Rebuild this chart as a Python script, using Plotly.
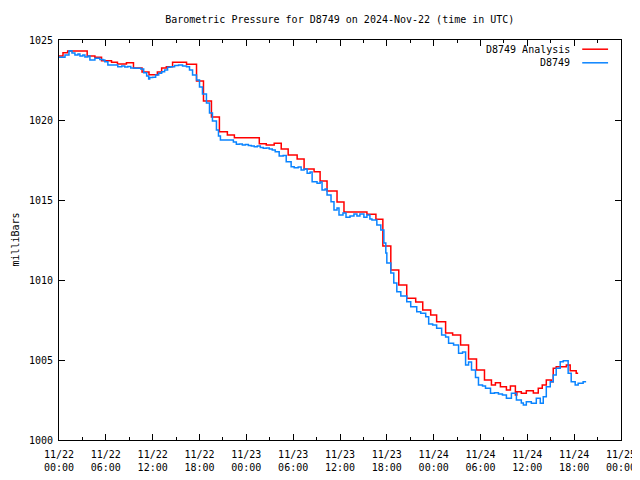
import pandas as pd
import plotly.graph_objects as go

START = "2024-11-22 00:00"
title_text = "Barometric Pressure for D8749 on 2024-Nov-22 (time in UTC)"
y_title = "milliBars"
analysis_name = "D8749 Analysis"
station_name = "D8749"

# hours since start, pressure (mb)
analysis_hours = [0.00, 0.51, 1.11, 3.61, 4.60, 5.45, 6.73, 7.49, 8.64, 9.54, 10.64, 11.53,
                  12.60, 13.15, 13.75, 14.55, 16.34, 17.62, 18.51, 19.53, 20.55, 21.57, 22.47,
                  25.66, 26.55, 27.57, 28.47, 29.36, 30.51, 31.40, 32.68, 33.45, 34.34, 35.62,
                  36.51, 39.45, 40.60, 41.49, 42.51, 43.53, 44.55, 45.70, 46.60, 47.62, 48.38,
                  49.53, 50.43, 51.45, 52.47, 53.49, 54.51, 55.40, 55.91, 56.55, 57.32, 57.83,
                  58.47, 58.66, 59.23, 59.87, 60.77, 61.40, 61.91, 62.43, 63.06, 63.32, 63.70,
                  65.00, 65.49, 66.26, 66.51]
analysis_values = [1024.00, 1024.20, 1024.31, 1024.00, 1023.92, 1023.71, 1023.61, 1023.50, 1023.58,
                   1023.25, 1023.00, 1022.83, 1023.00, 1023.25, 1023.33, 1023.61, 1023.48, 1022.44,
                   1021.19, 1020.19, 1019.27, 1019.06, 1018.89, 1018.52, 1018.44, 1018.54, 1018.19,
                   1017.81, 1017.56, 1016.94, 1016.77, 1016.19, 1015.56, 1014.88, 1014.25, 1014.11,
                   1013.79, 1012.13, 1010.63, 1009.69, 1008.86, 1008.63, 1008.13, 1007.81, 1007.39,
                   1006.69, 1006.56, 1005.94, 1005.06, 1004.38, 1003.75, 1003.44, 1003.58, 1003.33,
                   1003.13, 1003.38, 1002.81, 1003.02, 1002.92, 1003.08, 1002.94, 1003.23, 1003.44,
                   1003.75, 1003.64, 1004.48, 1004.58, 1004.69, 1004.33, 1004.17, 1004.17]

station_hours = [0.00, 0.51, 0.77, 1.28, 1.40, 1.66, 2.04, 2.43, 2.68, 3.06, 3.32, 3.70, 3.96, 4.34,
                 4.60, 4.98, 5.23, 5.62, 5.87, 6.26, 6.77, 7.15, 7.53, 8.04, 8.43, 8.81, 9.19, 9.70,
                 10.09, 10.47, 10.85, 11.23, 11.49, 11.62, 12.00, 12.38, 12.77, 13.15, 13.53, 13.91,
                 14.30, 14.81, 15.32, 15.83, 16.34, 16.72, 17.11, 17.62, 18.00, 18.38, 18.89, 19.28,
                 19.66, 20.17, 20.43, 20.68, 21.19, 21.57, 21.96, 22.34, 22.72, 23.11, 23.49, 23.87,
                 24.26, 24.64, 25.02, 25.40, 25.79, 26.17, 26.55, 26.94, 27.32, 27.70, 27.96, 28.21,
                 28.72, 29.11, 29.74, 30.13, 30.64, 31.02, 31.40, 31.79, 32.17, 32.43, 33.06, 33.45,
                 33.70, 34.09, 34.34, 34.85, 35.23, 35.62, 35.87, 36.38, 36.77, 37.28, 37.79, 38.17,
                 38.55, 39.06, 39.45, 39.83, 40.09, 40.72, 41.23, 41.62, 41.87, 42.00, 42.51, 42.89,
                 43.28, 43.79, 44.55, 45.06, 45.83, 46.34, 46.98, 47.36, 47.87, 48.38, 49.02, 49.53,
                 49.91, 50.55, 51.19, 51.70, 52.09, 52.47, 52.85, 53.36, 53.74, 54.26, 54.64, 55.28,
                 55.79, 56.30, 56.81, 57.32, 57.96, 58.60, 59.23, 59.49, 59.87, 60.51, 61.15, 61.66,
                 62.04, 62.43, 62.94, 63.32, 63.70, 64.21, 64.60, 65.23, 65.62, 66.13, 66.51, 67.15,
                 67.53]
station_values = [1023.92, 1023.92, 1024.06, 1024.31, 1024.33, 1024.19, 1024.06, 1024.13, 1024.00,
                  1024.06, 1023.94, 1024.00, 1023.75, 1023.75, 1023.86, 1023.86, 1023.78, 1023.75,
                  1023.64, 1023.44, 1023.44, 1023.44, 1023.33, 1023.38, 1023.31, 1023.34, 1023.25,
                  1023.23, 1023.23, 1023.19, 1022.96, 1022.75, 1022.56, 1022.66, 1022.67, 1022.81,
                  1022.92, 1023.02, 1023.13, 1023.29, 1023.33, 1023.41, 1023.44, 1023.38, 1023.33,
                  1023.13, 1022.81, 1022.50, 1022.06, 1021.63, 1021.06, 1020.44, 1019.94, 1019.38,
                  1019.00, 1018.75, 1018.75, 1018.75, 1018.75, 1018.63, 1018.48, 1018.50, 1018.44,
                  1018.47, 1018.41, 1018.38, 1018.33, 1018.38, 1018.28, 1018.23, 1018.25, 1018.19,
                  1018.13, 1018.02, 1018.02, 1017.75, 1017.78, 1017.39, 1017.08, 1017.02, 1017.06,
                  1016.88, 1016.94, 1016.67, 1016.75, 1016.14, 1016.04, 1016.13, 1015.63, 1015.69,
                  1015.31, 1014.89, 1014.38, 1014.50, 1014.06, 1014.19, 1013.92, 1014.00, 1014.13,
                  1014.00, 1014.13, 1013.92, 1014.06, 1013.81, 1013.75, 1013.44, 1013.13, 1012.31,
                  1011.69, 1011.06, 1010.44, 1009.81, 1009.27, 1009.00, 1008.64, 1008.33, 1008.02,
                  1007.92, 1007.71, 1007.25, 1007.19, 1006.98, 1006.56, 1006.44, 1006.04, 1005.94,
                  1005.42, 1005.50, 1004.69, 1004.88, 1004.38, 1003.90, 1003.44, 1003.38, 1003.23,
                  1002.92, 1002.96, 1002.88, 1002.81, 1002.61, 1002.92, 1002.50, 1002.31, 1002.19,
                  1002.39, 1002.29, 1002.61, 1002.29, 1002.71, 1003.33, 1003.64, 1004.06, 1004.48,
                  1004.89, 1004.96, 1004.17, 1003.64, 1003.44, 1003.54, 1003.64, 1003.64]

x_range = ["2024-11-22 00:00", "2024-11-25 00:00"]
y_range = [1000, 1025]
y_ticks = [1000, 1005, 1010, 1015, 1020, 1025]

t0 = pd.Timestamp(START)
analysis_t = t0 + pd.to_timedelta(analysis_hours, unit="h")
station_t = t0 + pd.to_timedelta(station_hours, unit="h")

RED = "#ff0000"
BLUE = "#0a84ff"
FONT = "DejaVu Sans Mono"

fig = go.Figure()
fig.add_trace(go.Scatter(x=analysis_t, y=analysis_values, mode="lines", name=analysis_name,
                         line=dict(color=RED, width=1.5, shape="hv")))
fig.add_trace(go.Scatter(x=station_t, y=station_values, mode="lines", name=station_name,
                         line=dict(color=BLUE, width=1.5, shape="hv")))

H6 = 6 * 3600 * 1000
# page body adds an 8px offset, so the figure is sized to fit the 640x480 window
fig.update_layout(
    width=632, height=472,
    margin=dict(l=51, r=19, t=32, b=40, autoexpand=False),
    paper_bgcolor="white", plot_bgcolor="white",
    showlegend=False,
    font=dict(family=FONT, size=10, color="black"),
    title=dict(text=title_text, x=0.525, xanchor="center", y=0.975, yanchor="middle",
               font=dict(family=FONT, size=10, color="black")),
    xaxis=dict(range=x_range, type="date", tick0=x_range[0], dtick=H6, automargin=False,
               tickformat="%m/%d<br>%H:%M", showgrid=False, zeroline=False,
               showline=True, linecolor="black", linewidth=1, mirror="allticks",
               ticks="inside", ticklen=6, tickcolor="black", ticklabelstandoff=5,
               minor=dict(ticks="inside", dtick=H6 / 2, ticklen=3, tickcolor="black", showgrid=False),
               tickfont=dict(family=FONT, size=10)),
    yaxis=dict(range=y_range, tickvals=y_ticks, showgrid=False, zeroline=False, automargin=False,
               showline=True, linecolor="black", linewidth=1, mirror="allticks",
               ticks="inside", ticklen=6, tickcolor="black", ticklabelstandoff=3,
               tickfont=dict(family=FONT, size=10)),
)

fig.add_annotation(x=-0.079, y=0.5, xref="paper", yref="paper", text=y_title, showarrow=False,
                   textangle=-90, xanchor="center", yanchor="middle",
                   font=dict(family=FONT, size=10, color="black"))

legend_rows = [(analysis_name, RED, 0.977), (station_name, BLUE, 0.943)]
for name, color, yy in legend_rows:
    fig.add_annotation(x=0.913, y=yy, xref="paper", yref="paper", text=name, showarrow=False,
                       xanchor="right", yanchor="middle", font=dict(family=FONT, size=10, color="black"))
    fig.add_shape(type="line", xref="paper", yref="paper", x0=0.931, x1=0.977, y0=yy, y1=yy,
                  line=dict(color=color, width=1.5))

fig.write_html("out.html")
